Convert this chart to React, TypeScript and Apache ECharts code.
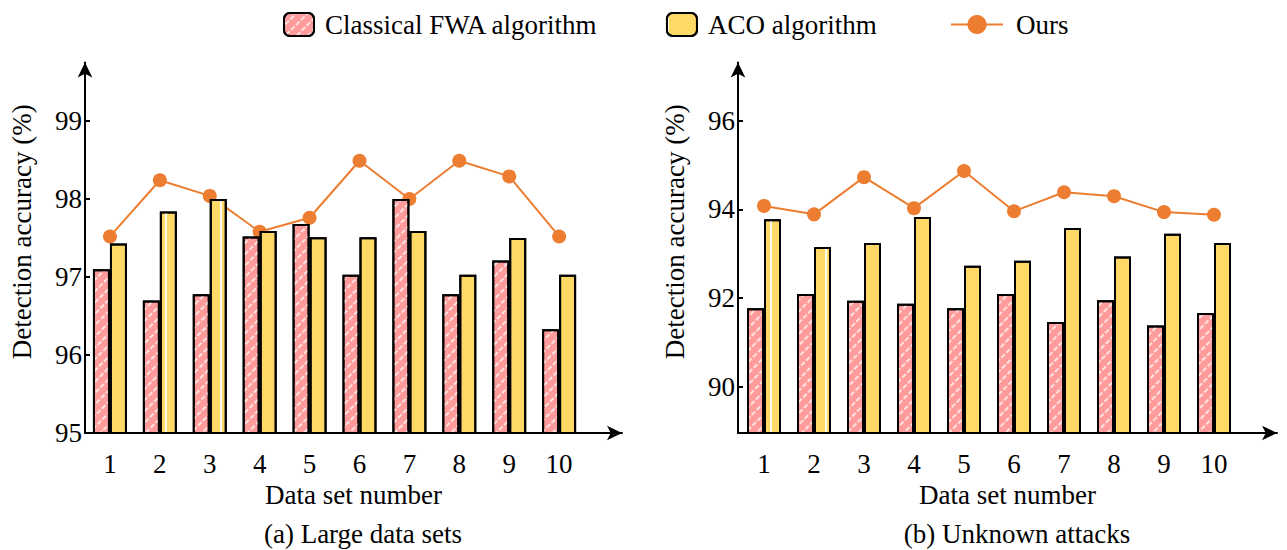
import React, { useEffect, useRef } from 'react';
import * as echarts from 'echarts';

// ---- data ----
const categories = ['1', '2', '3', '4', '5', '6', '7', '8', '9', '10'];
const seriesNames = ['Classical FWA algorithm', 'ACO algorithm', 'Ours'];

const fwaLarge = [97.1, 96.7, 96.78, 97.52, 97.68, 97.03, 98.0, 96.78, 97.21, 96.33];
const acoLarge = [97.43, 97.84, 98.0, 97.59, 97.51, 97.51, 97.59, 97.03, 97.5, 97.03];
const oursLarge = [97.52, 98.24, 98.04, 97.58, 97.76, 98.49, 98.0, 98.49, 98.29, 97.52];

const fwaUnknown = [91.77, 92.09, 91.94, 91.87, 91.77, 92.09, 91.46, 91.95, 91.38, 91.66];
const acoUnknown = [93.78, 93.15, 93.24, 93.83, 92.73, 92.84, 93.58, 92.94, 93.45, 93.24];
const oursUnknown = [94.08, 93.89, 94.73, 94.03, 94.87, 93.96, 94.39, 94.3, 93.94, 93.88];

const yTicksLarge = [95, 96, 97, 98, 99];
const yTicksUnknown = [90, 92, 94, 96];

const xTitle = 'Data set number';
const yTitle = 'Detection accuracy (%)';
const subTitles = ['(a) Large data sets', '(b) Unknown attacks'];

// ---- styles ----
const FONT = "'Liberation Serif', 'Times New Roman', serif";
const PINK = '#FF9B9B';
const YELLOW = '#FFD966';
const ORANGE = '#ED7D31';

const xValues = categories.map(Number);
const pairs = (vals: number[]) => xValues.map((x, i) => [x, vals[i]]);

const pinkDecal = {
  symbol: 'rect',
  symbolSize: 1,
  rotation: -Math.PI / 4,
  dashArrayX: [5, 2],
  dashArrayY: [2, 6],
  color: 'rgba(255,255,255,0.7)',
};
const yellowDecal = {
  symbol: 'rect',
  symbolSize: 1,
  dashArrayX: [2, 53],
  dashArrayY: [4, 0],
  color: 'rgba(255,255,255,0.9)',
};

const textBase = { fontFamily: FONT, fontSize: 27, color: '#000' };

function makeXAxis(gridIndex: number, min: number) {
  return {
    type: 'value',
    gridIndex,
    min,
    max: 11.26,
    axisLine: {
      show: true,
      lineStyle: { color: '#000', width: 2 },
      symbol: ['none', 'arrow'],
      symbolSize: [11, 15],
    },
    axisTick: { show: false },
    splitLine: { show: false },
    axisLabel: {
      ...textBase,
      customValues: xValues,
      formatter: (v: number) => categories[xValues.indexOf(v)] ?? '',
      margin: 17,
    },
    name: xTitle,
    nameLocation: 'middle',
    nameGap: 46,
    nameTextStyle: { ...textBase },
  };
}

function makeYAxis(gridIndex: number, min: number, max: number, ticks: number[]) {
  return {
    type: 'value',
    gridIndex,
    min,
    max,
    axisLine: {
      show: true,
      lineStyle: { color: '#000', width: 2 },
      symbol: ['none', 'arrow'],
      symbolSize: [11, 15],
    },
    axisTick: {
      show: true,
      inside: true,
      length: 5,
      customValues: ticks,
      lineStyle: { color: '#000', width: 2 },
    },
    splitLine: { show: false },
    axisLabel: { ...textBase, customValues: ticks, margin: 3 },
    name: yTitle,
    nameLocation: 'middle',
    nameGap: 50,
    nameTextStyle: { ...textBase, padding: [0, 0, 0, 32] },
  };
}

function barSeries(name: string, idx: number, vals: number[], color: string, decal: any) {
  return {
    name,
    type: 'bar',
    xAxisIndex: idx,
    yAxisIndex: idx,
    data: pairs(vals),
    barWidth: 17,
    barGap: '0%',
    z: 3,
    itemStyle: {
      color,
      borderColor: '#000',
      borderWidth: 2,
      decal,
    },
  };
}

function lineSeries(idx: number, vals: number[]) {
  return {
    name: seriesNames[2],
    type: 'line',
    xAxisIndex: idx,
    yAxisIndex: idx,
    data: pairs(vals),
    z: 1,
    symbol: 'circle',
    symbolSize: 14,
    lineStyle: { color: ORANGE, width: 2 },
    itemStyle: { color: ORANGE },
  };
}

const option: any = {
  animation: false,
  backgroundColor: '#fff',
  title: [
    { text: subTitles[0], left: 358, top: 515, textAlign: 'center', textStyle: { ...textBase, fontWeight: 'normal' } },
    { text: subTitles[1], left: 1012, top: 515, textAlign: 'center', textStyle: { ...textBase, fontWeight: 'normal' } },
  ],
  legend: [
    {
      data: [seriesNames[0], seriesNames[1]],
      left: 278,
      top: 6,
      itemWidth: 30,
      itemHeight: 23,
      itemGap: 68,
      selectedMode: false,
      textStyle: { ...textBase, padding: [0, 0, 0, 6] },
    },
    {
      data: [seriesNames[2]],
      left: 945,
      top: 6,
      itemWidth: 52,
      itemHeight: 24,
      selectedMode: false,
      textStyle: { ...textBase, padding: [0, 0, 0, 8] },
    },
  ],
  grid: [
    { left: 85, right: 665, top: 62.5, bottom: 117 },
    { left: 738, right: 10, top: 62.5, bottom: 117 },
  ],
  xAxis: [makeXAxis(0, 0.5), makeXAxis(1, 0.48)],
  yAxis: [
    makeYAxis(0, 95, 99.75, yTicksLarge),
    makeYAxis(1, 88.95, 97.32, yTicksUnknown),
  ],
  series: [
    barSeries(seriesNames[0], 0, fwaLarge, PINK, pinkDecal),
    barSeries(seriesNames[1], 0, acoLarge, YELLOW, yellowDecal),
    lineSeries(0, oursLarge),
    barSeries(seriesNames[0], 1, fwaUnknown, PINK, pinkDecal),
    barSeries(seriesNames[1], 1, acoUnknown, YELLOW, yellowDecal),
    lineSeries(1, oursUnknown),
  ],
};

export default function App() {
  const ref = useRef<HTMLDivElement>(null);
  useEffect(() => {
    const chart = echarts.init(ref.current!, null, { renderer: 'svg' });
    chart.setOption(option);
    return () => chart.dispose();
  }, []);
  return (
    <div
      ref={ref}
      style={{ position: 'fixed', left: 0, top: 0, width: 1287, height: 550, background: '#fff' }}
    />
  );
}
